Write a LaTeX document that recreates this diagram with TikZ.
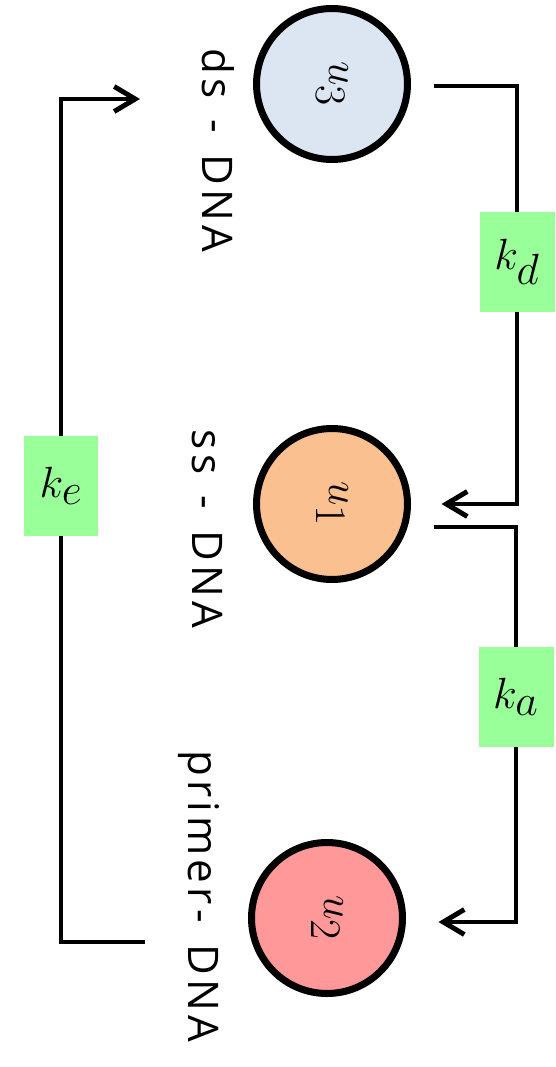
\documentclass[tikz,border=0pt]{standalone}
\usepackage{fontspec}
\newfontfamily\labelfont{Open Sans}[LetterSpace=10, WordSpace=1.4]
\usetikzlibrary{arrows.meta,positioning,backgrounds}
\definecolor{dsblue}{HTML}{DCE6F2}
\definecolor{ssorange}{HTML}{FAC090}
\definecolor{primerred}{HTML}{FF9999}
\definecolor{rategreen}{HTML}{99FF99}

\begin{document}
\begin{tikzpicture}[
    x=0.02cm, y=-0.02cm,
    strand/.style={circle, draw, line width=4pt, minimum size=3.02cm, inner sep=0pt, font=\fontsize{36}{42}\selectfont},
    tag/.style={font=\labelfont\fontsize{24}{28}\selectfont, rotate=-90, anchor=base, inner sep=0pt},
    rate/.style={fill=rategreen, minimum width=1.5cm, minimum height=2.02cm, inner sep=0pt, font=\fontsize{40}{46}\selectfont},
    flow/.style={-{Straight Barb[length=4.2mm, width=5mm]}, line width=2.8pt}
]
\useasboundingbox (0,0) rectangle (555,1067);

% Strands
\node[strand, fill=dsblue] (u3) at (332,84) {\rotatebox{-90}{$u_3$}};
\node[strand, fill=ssorange] (u1) at (332,504) {\rotatebox{-90}{$u_1$}};
\node[strand, fill=primerred] (u2) at (327,918) {\rotatebox{-90}{$u_2$}};

% Labels
\node[tag] (dsLabel) at (202,150) {ds - DNA};
\node[tag] (ssLabel) at (192,529) {ss - DNA};
\node[tag] (primerLabel) at (188,896) {primer- DNA};

% Rates
\node[rate] (kd) at (517,262) {$k_d$};
\node[rate] (ka) at (516,697) {$k_a$};
\node[rate] (ke) at (61,486) {$k_e$};

\coordinate (keFrom) at (145,942);
\coordinate (keTo) at (140,99);

% Reactions
\begin{scope}[on background layer]
\draw[flow, shorten >=0.61cm] ([xshift=0.45cm, yshift=-0.04cm]u3.east) -| (kd.center) |- (u1.east);
\draw[flow, shorten >=0.65cm] ([xshift=0.45cm, yshift=-0.46cm]u1.east) -| (ka.center) |- ([yshift=-0.08cm]u2.east);
\draw[flow] (keFrom) -| (ke.center) |- (keTo);
\end{scope}

\end{tikzpicture}
\end{document}
